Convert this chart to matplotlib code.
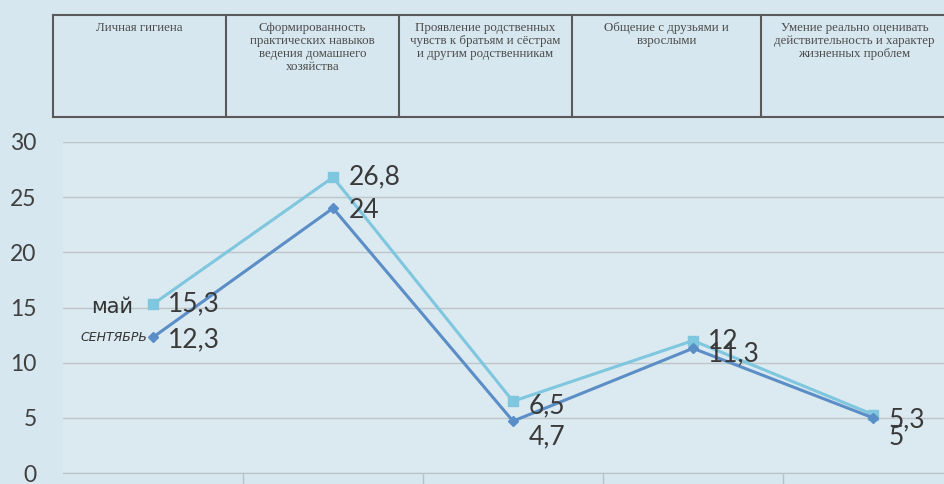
import matplotlib
matplotlib.use("Agg")
import matplotlib.pyplot as plt
from matplotlib.lines import Line2D

# ---- data ----
categories = [
    "Личная гигиена",
    "Сформированность\nпрактических навыков\nведения домашнего\nхозяйства",
    "Проявление родственных\nчувств к братьям и сёстрам\nи другим родственникам",
    "Общение с друзьями и\nвзрослыми",
    "Умение реально оценивать\nдействительность и характер\nжизненных проблем",
]
may_values = [15.3, 26.8, 6.5, 12, 5.3]
sep_values = [12.3, 24, 4.7, 11.3, 5]
may_labels = ["15,3", "26,8", "6,5", "12", "5,3"]
sep_labels = ["12,3", "24", "4,7", "11,3", "5"]
series_names = ["май", "СЕНТЯБРЬ"]
y_ticks = [0, 5, 10, 15, 20, 25, 30]

# ---- style ----
BG = "#d7e7ef"
MAY_C = "#7fc6df"
SEP_C = "#5b8ec6"
TXT = "#3a3a3a"

W, H = 944, 484
fig = plt.figure(figsize=(W / 100, H / 100), dpi=100, facecolor=BG)

# axes: x from 63px to 963px, y0 at 473px, y30 at 142px
ax = fig.add_axes([63 / W, (H - 473) / H, 900 / W, 331 / H])
ax.set_facecolor("#dbe9f0")
x = list(range(len(categories)))
ax.set_xlim(-0.5, len(categories) - 0.5)
ax.set_ylim(0, 30)
ax.set_yticks(y_ticks)
ax.set_yticklabels([str(t) for t in y_ticks], fontsize=16.5, color="#404040",
                   family=["Lato", "DejaVu Sans"])
ax.tick_params(axis="y", length=0, pad=19)
ax.set_xticks([])
ax.set_xticks([0.5, 1.5, 2.5, 3.5], minor=True)
ax.tick_params(axis="x", which="minor", length=14, color="#b8c2c8", width=1)
ax.grid(axis="y", color="#bcc6cb", linewidth=1)
ax.set_axisbelow(True)
for s in ["top", "right", "left"]:
    ax.spines[s].set_visible(False)
ax.spines["bottom"].set_color("#b8c2c8")

ax.plot(x, may_values, color=MAY_C, lw=2.2, marker="s", ms=7.5, mfc=MAY_C, mec=MAY_C, zorder=4)
ax.plot(x, sep_values, color=SEP_C, lw=2.2, marker="D", ms=5.5, mfc=SEP_C, mec=SEP_C, zorder=5)

may_off = [(11, 0), (11, 0), (11, -3), (11, -1), (11, -4)]
sep_off = [(11, -2), (11, -2), (11, -11), (11, -4), (11, -14)]
lab_font = dict(fontsize=19, color=TXT, family=["Lato", "DejaVu Sans"], va="center", ha="left")
for xi, v, lab, off in zip(x, may_values, may_labels, may_off):
    ax.annotate(lab, (xi, v), xytext=off, textcoords="offset points", zorder=6, **lab_font)
for xi, v, lab, off in zip(x, sep_values, sep_labels, sep_off):
    ax.annotate(lab, (xi, v), xytext=off, textcoords="offset points", zorder=6, **lab_font)

# series names near first point (handwritten look)
ax.annotate(series_names[0], (x[0], may_values[0]), xytext=(-14, -2), textcoords="offset points",
            ha="right", va="center", fontsize=15, color="#333333",
            family=["DejaVu Sans"])
ax.annotate(series_names[1], (x[0], sep_values[0]), xytext=(-4, 0), textcoords="offset points",
            ha="right", va="center", fontsize=9, color="#333333", style="italic",
            family=["DejaVu Sans"])

# ---- table header ----
col_edges = [53, 226, 399, 572, 761, 948]
top, bot = 15, 117
def fx(px):
    return px / W
def fy(py):
    return (H - py) / H
LC = "#5a5a5a"
fig.add_artist(Line2D([fx(col_edges[0]), fx(col_edges[-1])], [fy(top), fy(top)], color=LC, lw=1.5))
fig.add_artist(Line2D([fx(col_edges[0]), fx(col_edges[-1])], [fy(bot), fy(bot)], color=LC, lw=1.5))
for e in col_edges[:-1]:
    fig.add_artist(Line2D([fx(e), fx(e)], [fy(top), fy(bot)], color=LC, lw=1.5))
for i, cat in enumerate(categories):
    cx = (col_edges[i] + col_edges[i + 1]) / 2
    fig.text(fx(cx), fy(top + 7), cat, ha="center", va="top", fontsize=9.3,
             color="#4a4a4a", family=["Liberation Serif", "DejaVu Serif"], linespacing=1.12)

fig.savefig("out.png", dpi=100, facecolor=BG)
